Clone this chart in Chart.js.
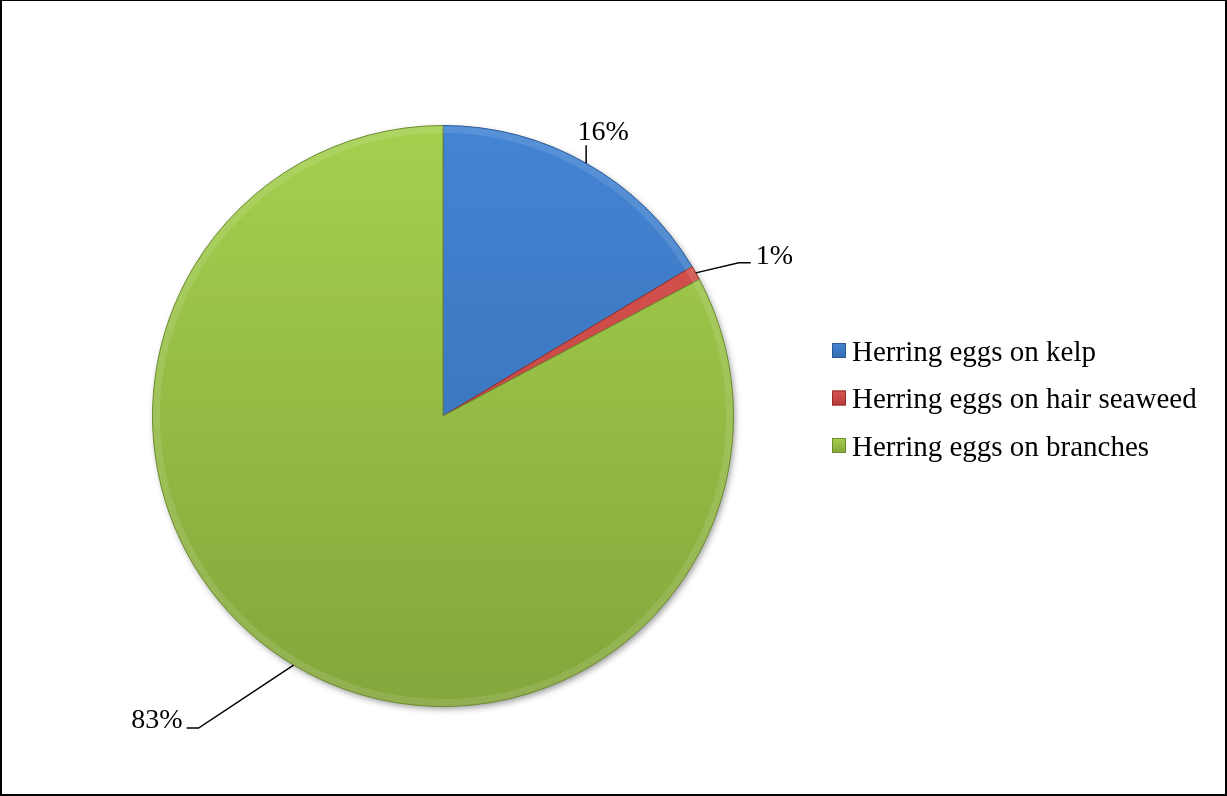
<!DOCTYPE html>
<html>
<head>
<meta charset="utf-8">
<script src="https://cdn.jsdelivr.net/npm/chart.js@4/dist/chart.umd.min.js"></script>
<style>
  body { margin: 0; background: #fff; }
  #wrap { position: relative; width: 1227px; height: 796px; }
  #frame {
    position: absolute; left: 0; top: 0; width: 1227px; height: 796px;
    box-sizing: border-box; border: 2px solid #000; border-top-width: 1px;
    pointer-events: none;
  }
</style>
</head>
<body>
<div id="wrap">
  <canvas id="pieChart" width="1227" height="796"></canvas>
  <div id="frame"></div>
</div>
<script>
// data
const categories = ['Herring eggs on kelp', 'Herring eggs on hair seaweed', 'Herring eggs on branches']
const shares = [16.4, 0.8, 82.8]

// slice colours, light (top) to dark (bottom)
const topColors = ['#4384d3', '#dc5552', '#a4d04e']
const bottomColors = ['#366bb0', '#b33d39', '#84a63b']
const edgeColors = ['#2d5a96', '#962d2a', '#6c8a2e']

// leader lines: offsets from the rim point, then where the text sits
const leaders = [
  { pts: [[0, 0], [0, -18]], text: [17, -23], align: 'center' },
  { pts: [[0, 0], [43, -10], [55, -10]], text: [60, -9], align: 'left' },
  { pts: [[0, 0], [-95, 63], [-107, 63]], text: [-111, 63], align: 'right' },
]

const FONT = '"Liberation Serif", "Times New Roman", serif'

function sliceFill(c) {
  const chart = c.chart
  const area = chart.chartArea
  const i = c.dataIndex
  if (!area) return topColors[i]
  const g = chart.ctx.createLinearGradient(0, area.top, 0, area.bottom)
  g.addColorStop(0, topColors[i])
  g.addColorStop(1, bottomColors[i])
  return g
}

const pieDecor = {
  id: 'pieDecor',
  beforeDatasetsDraw(chart) {
    const arc = chart.getDatasetMeta(0).data[0]
    if (!arc) return
    const ctx = chart.ctx
    ctx.save()
    ctx.beginPath()
    ctx.arc(arc.x, arc.y, arc.outerRadius - 1, 0, Math.PI * 2)
    ctx.fillStyle = '#8aae40'
    ctx.shadowColor = 'rgba(0,0,0,0.45)'
    ctx.shadowBlur = 7
    ctx.shadowOffsetX = 2
    ctx.shadowOffsetY = 3
    ctx.fill()
    ctx.restore()
  },
  afterDatasetsDraw(chart) {
    const meta = chart.getDatasetMeta(0)
    const ctx = chart.ctx
    // soft bevel along the rim
    meta.data.forEach((a) => {
      ctx.save()
      ctx.beginPath()
      ctx.arc(a.x, a.y, a.outerRadius - 4, a.startAngle, a.endAngle)
      ctx.lineWidth = 7
      ctx.strokeStyle = 'rgba(255,255,255,0.11)'
      ctx.stroke()
      ctx.restore()
    })

    // percentage labels with leader lines
    const total = shares.reduce((s, v) => s + v, 0)
    ctx.save()
    ctx.font = '28px ' + FONT
    ctx.fillStyle = '#000'
    ctx.strokeStyle = '#000'
    ctx.lineWidth = 1.5
    meta.data.forEach((a, i) => {
      const mid = (a.startAngle + a.endAngle) / 2
      const rx = a.x + Math.cos(mid) * a.outerRadius
      const ry = a.y + Math.sin(mid) * a.outerRadius
      const L = leaders[i]
      ctx.beginPath()
      L.pts.forEach((p, k) => {
        if (k === 0) ctx.moveTo(rx + p[0], ry + p[1])
        else ctx.lineTo(rx + p[0], ry + p[1])
      })
      ctx.stroke()
      ctx.textAlign = L.align
      ctx.textBaseline = 'alphabetic'
      const pct = Math.round(shares[i] / total * 100) + '%'
      ctx.fillText(pct, rx + L.text[0], ry + L.text[1])
    })
    ctx.restore()
  },
  afterDraw(chart) {
    // legend on the right
    const ctx = chart.ctx
    ctx.save()
    ctx.font = '29px ' + FONT
    ctx.fillStyle = '#000'
    ctx.textBaseline = 'alphabetic'
    ctx.textAlign = 'left'
    categories.forEach((name, i) => {
      const y = 343 + i * 47.5
      const g = ctx.createLinearGradient(0, y, 0, y + 15)
      g.addColorStop(0, topColors[i])
      g.addColorStop(1, bottomColors[i])
      ctx.fillStyle = g
      ctx.fillRect(832, y, 14, 15)
      ctx.strokeStyle = edgeColors[i]
      ctx.lineWidth = 1
      ctx.strokeRect(832.5, y + 0.5, 13, 14)
      ctx.fillStyle = '#000'
      ctx.fillText(name, 852, y + 17.5)
    })
    ctx.restore()
  },
}

new Chart(document.getElementById('pieChart'), {
  type: 'pie',
  data: {
    labels: categories,
    datasets: [
      {
        data: shares,
        backgroundColor: sliceFill,
        borderColor: edgeColors,
        borderWidth: 1,
      },
    ],
  },
  options: {
    responsive: false,
    animation: false,
    layout: { padding: { left: 152, right: 493, top: 125, bottom: 89 } },
    plugins: {
      legend: { display: false },
      tooltip: { enabled: false },
    },
  },
  plugins: [pieDecor],
})
</script>
</body>
</html>
